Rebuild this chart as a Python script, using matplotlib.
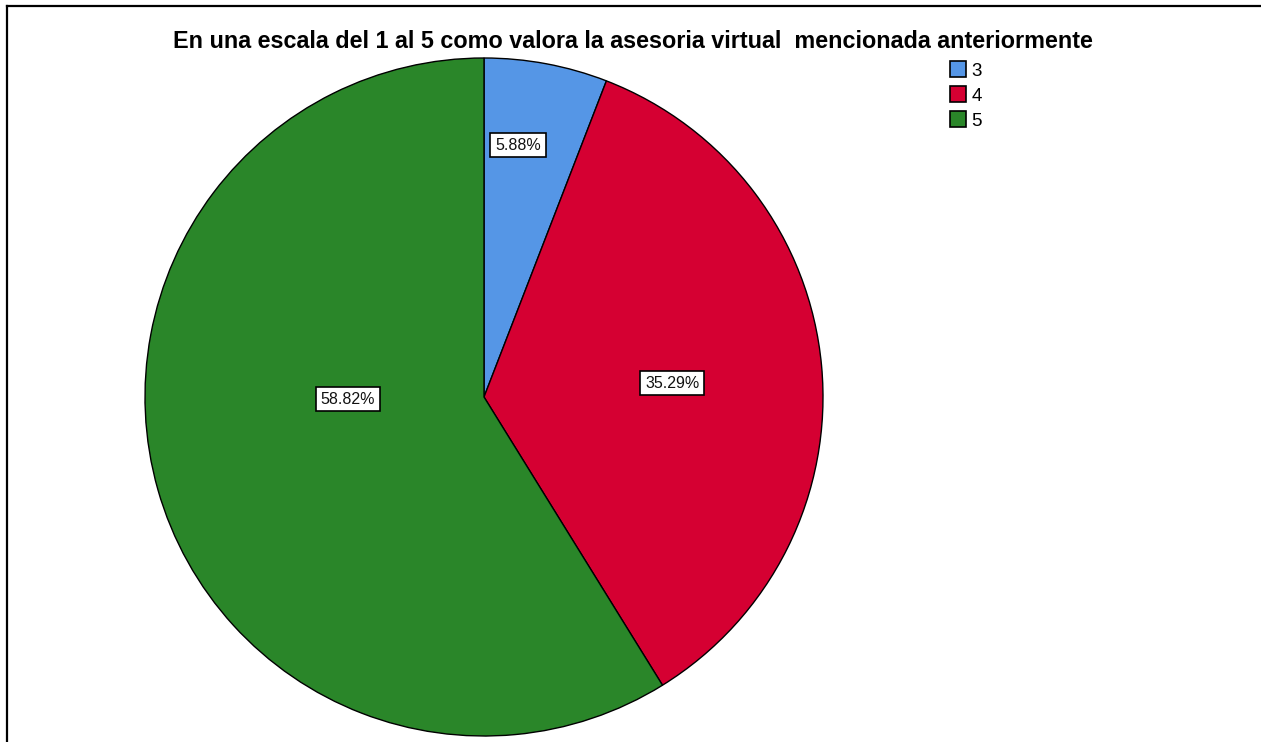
"""
plot.py — pie chart of the 1-5 rating of the virtual advisory (SPSS style).
"""

import matplotlib
matplotlib.use("Agg")  # headless
import matplotlib.pyplot as plt
from matplotlib.lines import Line2D

# ============================================================
# Data
# ============================================================

categories = ["3", "4", "5"]
percentages = [5.88, 35.29, 58.82]
colors = ["#5596E6", "#D50032", "#2A8629"]
title = "En una escala del 1 al 5 como valora la asesoria virtual  mencionada anteriormente"

# label anchors in unit-radius coordinates (SPSS places them off the wedge midline)
label_xy = [(0.100, 0.743), (0.555, 0.041), (-0.401, -0.006)]

# ============================================================
# Figure
# ============================================================

W, H = 1261, 742
fig = plt.figure(figsize=(W / 100, H / 100), dpi=100)
plt.rcParams["font.family"] = ["Liberation Sans", "DejaVu Sans"]

# pie centre (484, 397) px, radius 339 px
cx, cy, r = 484, 397, 339
ax = fig.add_axes([(cx - r) / W, (H - cy - r) / H, 2 * r / W, 2 * r / H])
ax.pie(
    percentages,
    colors=colors,
    startangle=90,
    counterclock=False,
    radius=1.0,
    wedgeprops=dict(edgecolor="black", linewidth=1.0),
)
ax.set_xlim(-1, 1)
ax.set_ylim(-1, 1)
ax.set_aspect("equal")
ax.axis("off")

for (x, y), pct in zip(label_xy, percentages):
    ax.text(
        x, y, f"{pct:.2f}%",
        ha="center", va="center", fontsize=11.5, color="#111111",
        bbox=dict(boxstyle="square,pad=0.3", facecolor="white",
                  edgecolor="black", linewidth=1.2),
    )

fig.text(633 / W, 1 - 42 / H, title, ha="center", va="center",
         fontsize=16.8, fontweight="bold")

handles = [plt.Rectangle((0, 0), 1, 1, facecolor=c, edgecolor="black", linewidth=1.2)
           for c in colors]
fig.legend(
    handles, categories,
    loc="upper left", bbox_to_anchor=(950 / W, 1 - 61 / H),
    frameon=False, fontsize=13.5, handlelength=0.85, handleheight=0.95,
    handletextpad=0.3, labelspacing=0.35, borderaxespad=0, borderpad=0,
)

# partial frame (left and top edges only, as in the source export)
fig.add_artist(Line2D([7 / W, 7 / W], [0, 1 - 6 / H], color="black", linewidth=1.6,
                      transform=fig.transFigure))
fig.add_artist(Line2D([7 / W, 1], [1 - 6 / H, 1 - 6 / H], color="black", linewidth=1.6,
                      transform=fig.transFigure))

fig.savefig("out.png", dpi=100, facecolor="white")
plt.close(fig)
